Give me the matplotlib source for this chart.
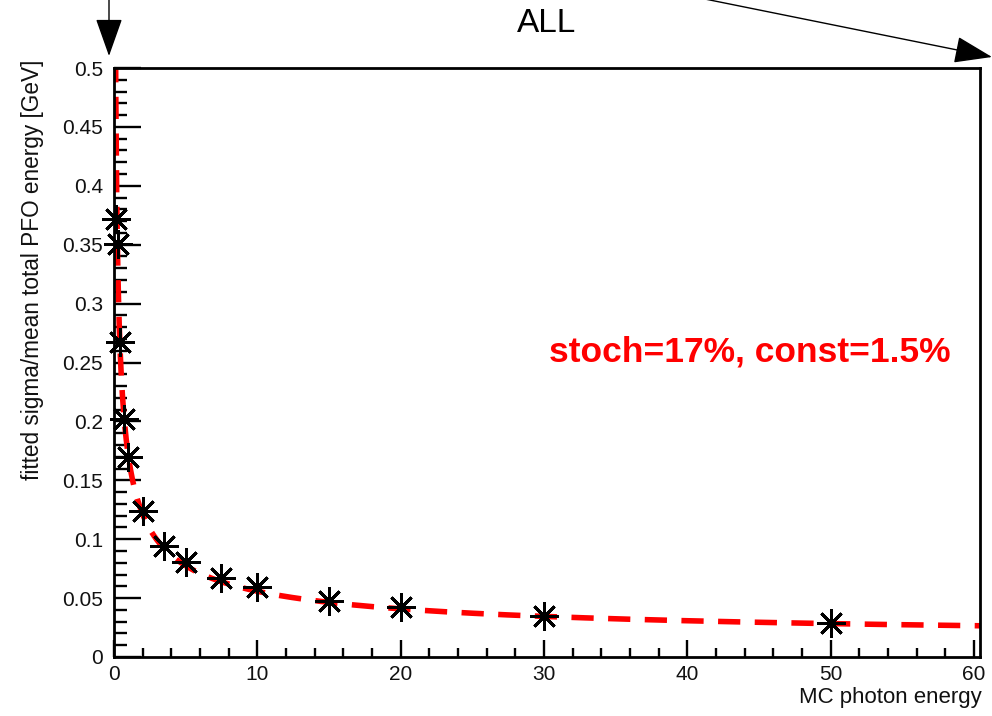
import numpy as np
import matplotlib
matplotlib.use("Agg")
import matplotlib.pyplot as plt
from matplotlib.patches import FancyArrowPatch, ArrowStyle

plt.rcParams['font.family'] = ['Liberation Sans', 'DejaVu Sans']

# Photon energy points and fitted resolution
energy = [0.15, 0.25, 0.4, 0.7, 1.0, 2.0, 3.5, 5.0, 7.5, 10.0, 15.0, 20.0, 30.0, 50.0]
resolution = [0.372, 0.351, 0.267, 0.202, 0.170, 0.124, 0.094, 0.081, 0.067,
              0.059, 0.0475, 0.0424, 0.0348, 0.0289]

# Fit parameters (fractions)
stoch = 0.17
const = 0.015

x_ticks = [0, 10, 20, 30, 40, 50, 60]
y_ticks = [0, 0.05, 0.1, 0.15, 0.2, 0.25, 0.3, 0.35, 0.4, 0.45, 0.5]
y_tick_labels = ['0', '0.05', '0.1', '0.15', '0.2', '0.25', '0.3', '0.35', '0.4', '0.45', '0.5']

W, H = 992, 716
fig = plt.figure(figsize=(W / 100, H / 100), dpi=100)
fig.patch.set_facecolor('white')

left, right, top, bottom = 114, 980, 68, 657
ax = fig.add_axes([left / W, 1 - bottom / H, (right - left) / W, (bottom - top) / H])
ax.set_xlim(0, 60.42)
ax.set_ylim(0, 0.5)

# fitted curve sigma/E = stoch/sqrt(E) (+) const
e_fit = np.linspace(0.1, 60.42, 2000)
fit = np.sqrt(stoch ** 2 / e_fit + const ** 2)
ax.plot(e_fit, fit, color='#ff0000', lw=4.0, ls=(0, (4.0, 2.6)), zorder=2,
        solid_capstyle='butt', dash_capstyle='butt')

ax.plot(energy, resolution, ls='none', marker=(8, 2, 0), ms=20.5, mew=2.1,
        color='black', zorder=3, clip_on=False)

for s in ax.spines.values():
    s.set_linewidth(2.0)
    s.set_color('black')

ax.set_xticks(x_ticks)
ax.set_xticklabels([str(v) for v in x_ticks])
ax.set_yticks(y_ticks)
ax.set_yticklabels(y_tick_labels)
ax.set_xticks(np.arange(0, 61, 2), minor=True)
ax.set_yticks(np.arange(0, 0.501, 0.01), minor=True)

ax.tick_params(axis='both', which='both', direction='in', color='black',
               labelsize=15, labelcolor='#111111')
ax.tick_params(axis='y', which='major', length=19.5, width=1.7, pad=8)
ax.tick_params(axis='y', which='minor', length=9.5, width=1.7)
ax.tick_params(axis='x', which='major', length=12, width=1.7, pad=6)
ax.tick_params(axis='x', which='minor', length=6.5, width=1.7)
ax.tick_params(top=False, right=False, which='both')

# axis titles
fig.text(982 / W, 1 - 698 / H, 'MC photon energy', ha='right', va='center',
         fontsize=16, color='#111111')
fig.text(33 / W, 1 - 60 / H, 'fitted sigma/mean total PFO energy [GeV]',
         rotation=90, ha='center', va='top', fontsize=16.3, color='#111111')

fig.text(547 / W, 1 - 23 / H, 'ALL', ha='center', va='center', fontsize=24,
         color='black')

fig.text(750 / W, 1 - 352 / H, 'stoch=17%, const=1.5%', ha='center', va='center',
         fontsize=25.5, fontweight='bold', color='#ff0000')

# arrows drawn across the canvas
style = ArrowStyle('-|>', head_length=24, head_width=8.5)
for (x0, y0), (x1, y1) in [((109, -2), (109, 56)), ((690, -4), (992, 57))]:
    arr = FancyArrowPatch((x0 / W, 1 - y0 / H), (x1 / W, 1 - y1 / H),
                          transform=fig.transFigure, arrowstyle=style,
                          mutation_scale=1, lw=1.0, color='black',
                          shrinkA=0, shrinkB=0, clip_on=False)
    fig.add_artist(arr)

fig.savefig('out.png', dpi=100, facecolor='white')
